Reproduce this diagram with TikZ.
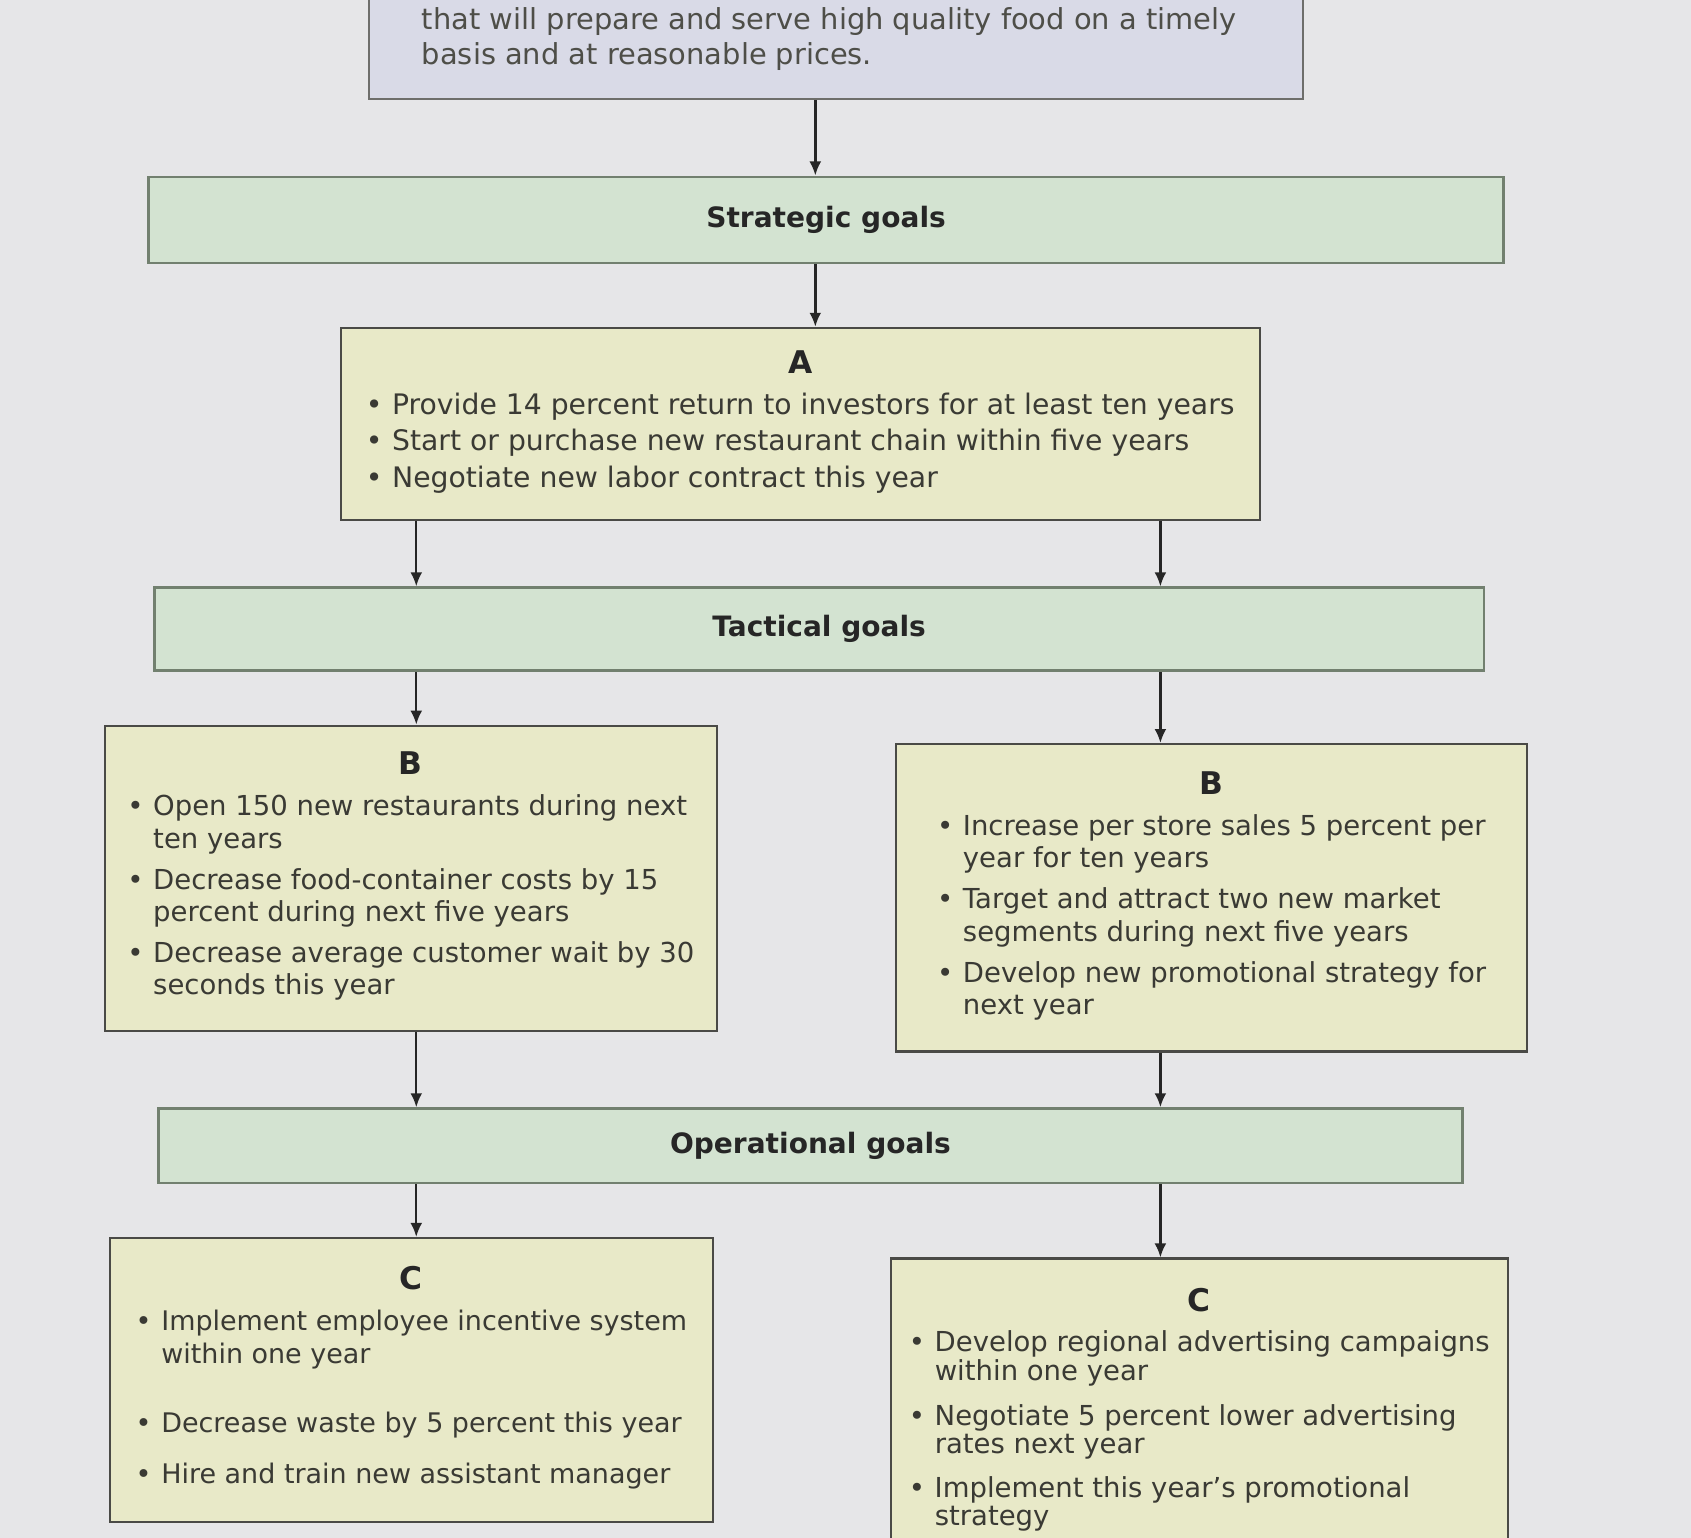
\documentclass[tikz,border=0pt]{standalone}
\usepackage{fontspec}
\setmainfont{DejaVu Sans}
\usetikzlibrary{arrows.meta}
\definecolor{bgc}{HTML}{E6E6E8}
\definecolor{missionfill}{HTML}{D9DAE7}
\definecolor{barfill}{HTML}{D3E3D1}
\definecolor{goalfill}{HTML}{E8E9C8}
\definecolor{edgec}{HTML}{4A4A46}
\definecolor{baredge}{HTML}{72806F}
\definecolor{txt}{HTML}{3A3A34}
\newcommand{\goaltitle}[1]{{\fontsize{29}{32}\selectfont\bfseries\color{black!85}#1}\\[16pt]}
\newcommand{\goallist}[1]{\begin{tabular}{@{}l@{\hspace{9pt}}l@{}}#1\end{tabular}}
\tikzset{
  goalbox/.style={draw=edgec, line width=2pt, fill=goalfill, inner sep=0pt, align=center, text=txt, font=\fontsize{25.5}{30}\selectfont},
  levelbar/.style={draw=baredge, line width=2.5pt, fill=barfill, inner sep=0pt, font=\fontsize{26}{30}\selectfont\bfseries, text=black!85},
  missionbox/.style={draw=edgec!80, line width=2pt, fill=missionfill, inner sep=0pt},
  conn/.style={draw=black!85, line width=2.2pt, -{Latex[length=13pt,width=11pt]}},
}
\begin{document}
\begin{tikzpicture}[x=1pt,y=-1pt]
\clip (0,0) rectangle (1568,1426);
\fill[bgc] (0,0) rectangle (1568,1426);

\node[missionbox, minimum width=866pt, minimum height=133pt, anchor=south west] (mission) at (341,93) {};
\node[anchor=west, align=left, inner sep=0pt, font=\fontsize{26.8}{32}\selectfont, text=txt!90] (missiontext) at (391,36)
  {that will prepare and serve high quality food on a timely\\basis and at reasonable prices.};

\node[levelbar, minimum width=1256pt, minimum height=80pt] (strat) at (766,204) {Strategic goals};

\node[goalbox, minimum width=852pt, minimum height=178pt, font=\fontsize{26.2}{30}\selectfont] (A) at (742,393)
  {\goaltitle{A}\goallist{\textbullet & Provide 14 percent return to investors for at least ten years\\[4pt]
   \textbullet & Start or purchase new restaurant chain within five years\\[4pt]
   \textbullet & Negotiate new labor contract this year}};

\node[levelbar, minimum width=1233pt, minimum height=77pt] (tact) at (759.5,583.5) {Tactical goals};

\node[goalbox, minimum width=568pt, minimum height=283pt] (BL) at (381,814.5)
  {\goaltitle{B}\goallist{\textbullet & Open 150 new restaurants during next\\ & ten years\\[8pt]
   \textbullet & Decrease food-container costs by 15\\ & percent during next five years\\[8pt]
   \textbullet & Decrease average customer wait by 30\\ & seconds this year}};

\node[goalbox, minimum width=585pt, minimum height=285pt] (BR) at (1123.5,832.5)
  {\goaltitle{B}\goallist{\textbullet & Increase per store sales 5 percent per\\ & year for ten years\\[8pt]
   \textbullet & Target and attract two new market\\ & segments during next five years\\[8pt]
   \textbullet & Develop new promotional strategy for\\ & next year}};

\node[levelbar, minimum width=1209pt, minimum height=69pt] (oper) at (751.5,1062.5) {Operational goals};

\node[goalbox, minimum width=559pt, minimum height=263pt, font=\fontsize{25}{30}\selectfont] (CL) at (381.5,1279.5)
  {\goaltitle{C}\goallist{\textbullet & Implement employee incentive system\\ & within one year\\[34pt]
   \textbullet & Decrease waste by 5 percent this year\\[18pt]
   \textbullet & Hire and train new assistant manager}};

\node[goalbox, minimum width=572pt, minimum height=283pt, font=\fontsize{25.5}{26}\selectfont] (CR) at (1112,1308.5)
  {\goaltitle{C}\goallist{\textbullet & Develop regional advertising campaigns\\ & within one year\\[14pt]
   \textbullet & Negotiate 5 percent lower advertising\\ & rates next year\\[14pt]
   \textbullet & Implement this year’s promotional\\ & strategy}};

\coordinate (colM) at (756,0);
\coordinate (colL) at (386,0);
\coordinate (colR) at (1076,0);

\draw[conn] (mission.south -| colM) -- (strat.north -| colM);
\draw[conn] (strat.south -| colM) -- (A.north -| colM);
\draw[conn] (A.south -| colL) -- (tact.north -| colL);
\draw[conn] (A.south -| colR) -- (tact.north -| colR);
\draw[conn] (tact.south -| colL) -- (BL.north -| colL);
\draw[conn] (tact.south -| colR) -- (BR.north -| colR);
\draw[conn] (BL.south -| colL) -- (oper.north -| colL);
\draw[conn] (BR.south -| colR) -- (oper.north -| colR);
\draw[conn] (oper.south -| colL) -- (CL.north -| colL);
\draw[conn] (oper.south -| colR) -- (CR.north -| colR);
\end{tikzpicture}
\end{document}
